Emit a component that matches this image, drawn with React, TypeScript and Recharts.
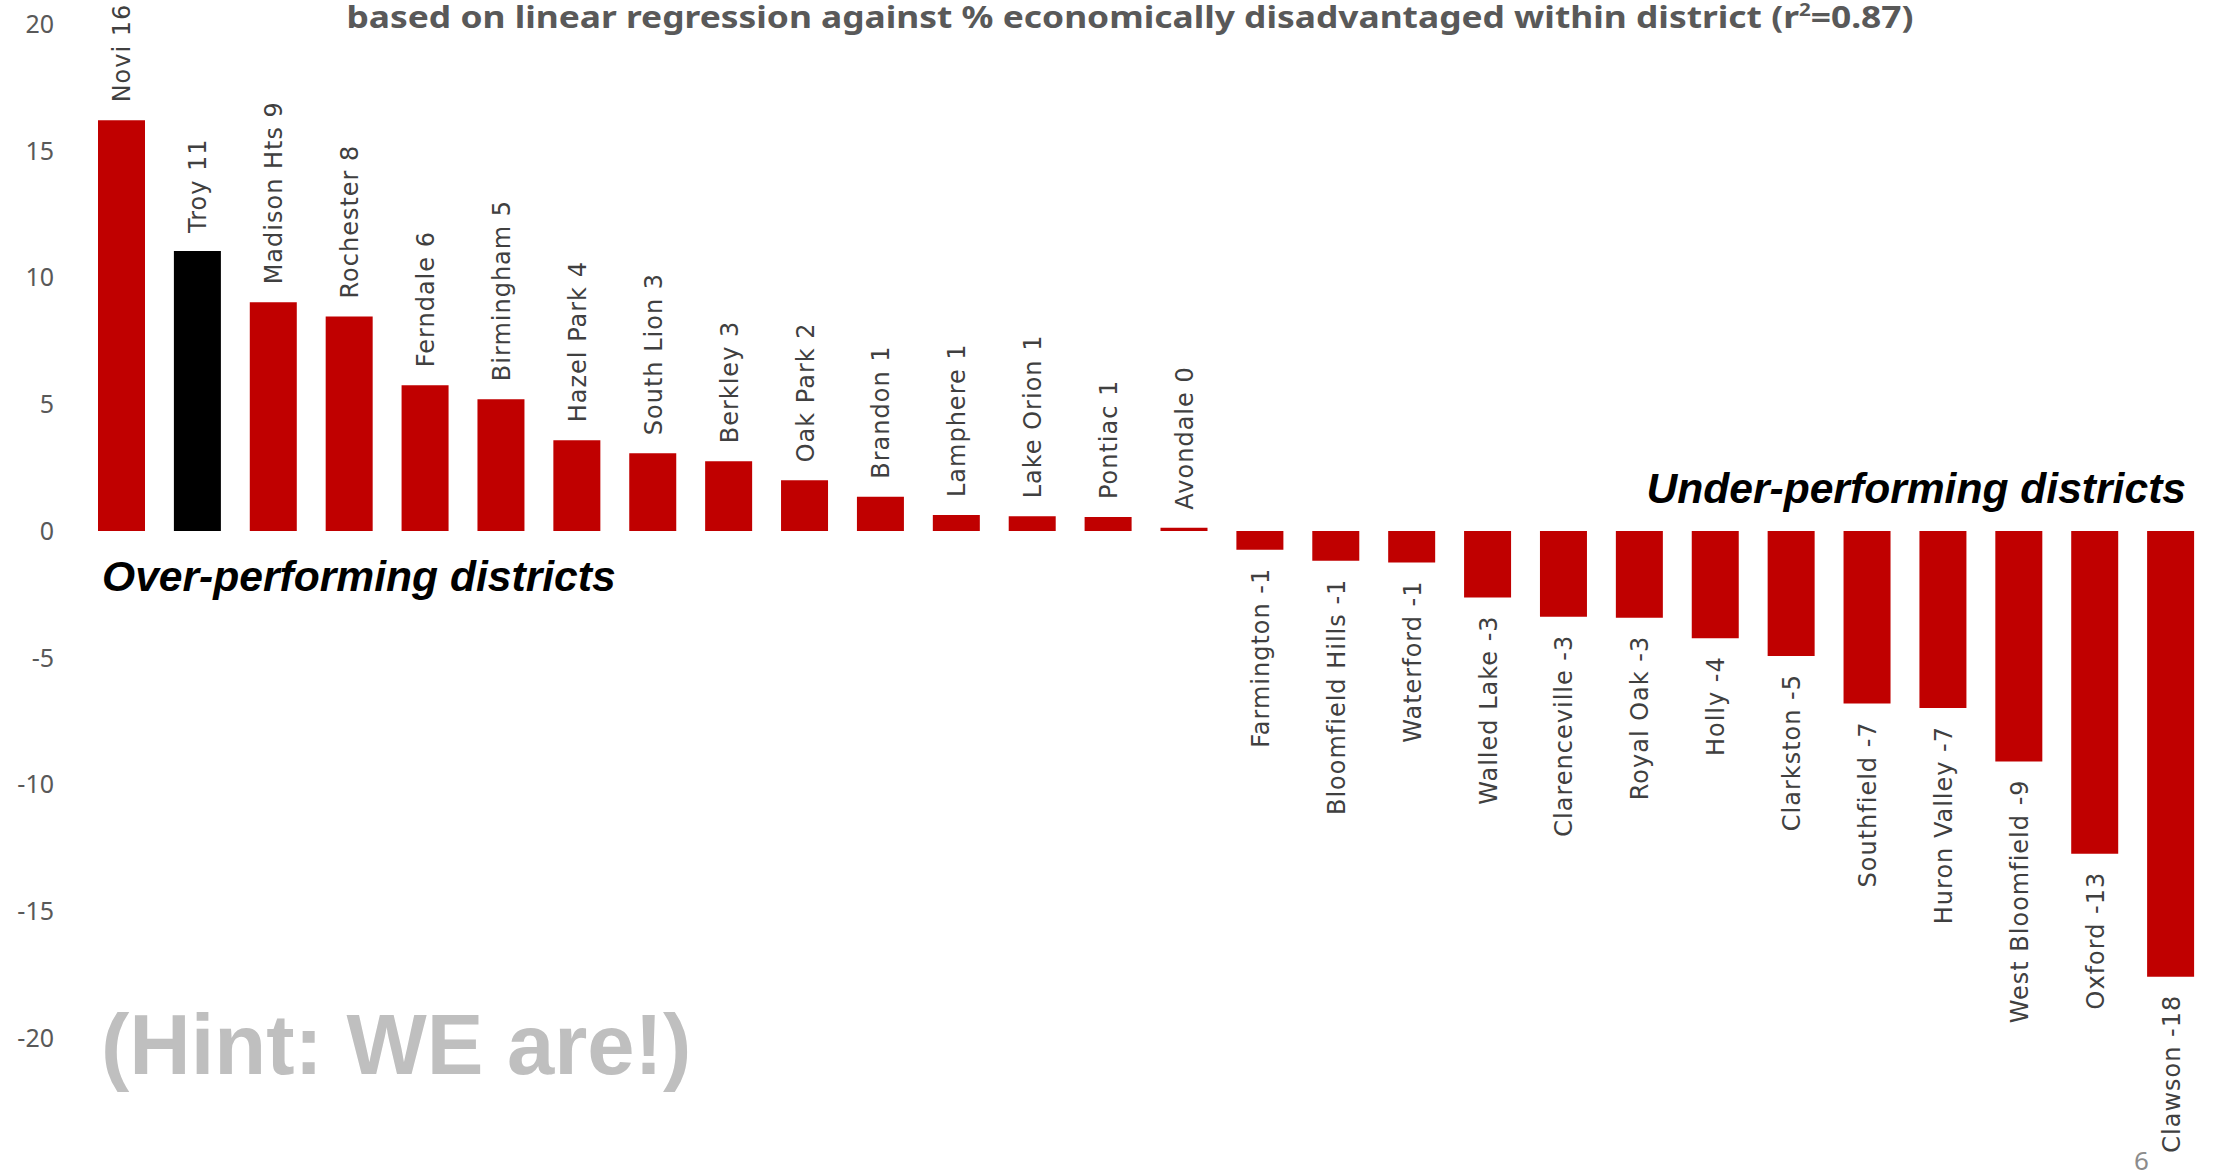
import { BarChart, Bar, XAxis, YAxis, Cell, LabelList } from 'recharts';

// residual scores per district
const districts = [
  'Novi', 'Troy', 'Madison Hts', 'Rochester', 'Ferndale', 'Birmingham', 'Hazel Park',
  'South Lion', 'Berkley', 'Oak Park', 'Brandon', 'Lamphere', 'Lake Orion', 'Pontiac',
  'Avondale', 'Farmington', 'Bloomfield Hills', 'Waterford', 'Walled Lake', 'Clarenceville',
  'Royal Oak', 'Holly', 'Clarkston', 'Southfield', 'Huron Valley', 'West Bloomfield',
  'Oxford', 'Clawson',
];
const scores = [
  16.2, 11.05, 9.02, 8.46, 5.75, 5.2, 3.58,
  3.07, 2.75, 2.0, 1.35, 0.63, 0.58, 0.55,
  0.13, -0.74, -1.17, -1.24, -2.62, -3.38,
  -3.42, -4.23, -4.93, -6.8, -6.98, -9.09,
  -12.73, -17.58,
];
const shown = [16, 11, 9, 8, 6, 5, 4, 3, 3, 2, 1, 1, 1, 1, 0, -1, -1, -1, -3, -3, -3, -4, -5, -7, -7, -9, -13, -18];
const highlighted = 'Troy';
const yTicks = [20, 15, 10, 5, 0, -5, -10, -15, -20];

const data = districts.map((name, i) => ({ name, score: scores[i], shown: shown[i] }));

const W = 2215;
const H = 1175;

function DistrictLabel(props: any) {
  const { index } = props;
  const x = Number(props.x);
  const y = Number(props.y);
  const width = Number(props.width);
  const height = Number(props.height);
  const row = data[index];
  if (!row) return null;
  const cx = x + width / 2 + 1;
  const top = Math.min(y, y + height);
  const bottom = Math.max(y, y + height);
  const up = row.score >= 0;
  const ay = up ? top - 18 : bottom + 18;
  return (
    <text
      x={cx}
      y={ay}
      transform={`rotate(-90 ${cx} ${ay})`}
      textAnchor={up ? 'start' : 'end'}
      dominantBaseline="central"
      fontFamily="'DejaVu Sans', Verdana, sans-serif"
      fontSize={24}
      letterSpacing={1}
      fill="#404040"
    >
      {`${row.name} ${row.shown}`}
    </text>
  );
}

export default function App() {
  return (
    <div style={{ position: 'absolute', left: 0, top: 0, width: W, height: H, background: '#fff' }}>
      <BarChart
        width={W}
        height={H}
        data={data}
        margin={{ top: 24, right: 6, bottom: 137, left: 0 }}
        barSize={47}
      >
        <XAxis dataKey="name" hide />
        <YAxis
          domain={[-20, 20]}
          ticks={yTicks}
          width={84}
          axisLine={false}
          tickLine={false}
          tickSize={0}
          tickMargin={30}
          interval={0}
          tick={{ fill: '#595959', fontSize: 25, fontFamily: "'Noto Sans', sans-serif" }}
        />
        <Bar dataKey="score" isAnimationActive={false}>
          {data.map((d) => (
            <Cell key={d.name} fill={d.name === highlighted ? '#000000' : '#C00000'} />
          ))}
          <LabelList dataKey="name" content={DistrictLabel} />
        </Bar>
      </BarChart>
      <svg
        width={W}
        height={H}
        style={{ position: 'absolute', left: 0, top: 0, pointerEvents: 'none' }}
      >
        <text
          x={1130}
          y={28}
          textAnchor="middle"
          textLength={1567}
          lengthAdjust="spacingAndGlyphs"
          fontFamily="'Noto Sans', sans-serif"
          fontWeight="bold"
          fontSize={31}
          fill="#595959"
        >
          based on linear regression against % economically disadvantaged within district (r
          <tspan dy={-12} fontSize={18}>2</tspan>
          <tspan dy={12}>=0.87)</tspan>
        </text>
        <text
          x={102}
          y={591}
          fontFamily="'Liberation Sans', Arial, sans-serif"
          fontWeight="bold"
          fontStyle="italic"
          fontSize={42.6}
          fill="#000"
        >
          Over-performing districts
        </text>
        <text
          x={2186}
          y={503}
          textAnchor="end"
          fontFamily="'Liberation Sans', Arial, sans-serif"
          fontWeight="bold"
          fontStyle="italic"
          fontSize={42.6}
          fill="#000"
        >
          Under-performing districts
        </text>
        <text
          x={101}
          y={1074}
          fontFamily="'Liberation Sans', Arial, sans-serif"
          fontWeight="bold"
          fontSize={85}
          fill="#BFBFBF"
        >
          (Hint: WE are!)
        </text>
        <text
          x={2134}
          y={1170}
          fontFamily="'Noto Sans', sans-serif"
          fontSize={26}
          fill="#8C8C8C"
        >
          6
        </text>
      </svg>
    </div>
  );
}
